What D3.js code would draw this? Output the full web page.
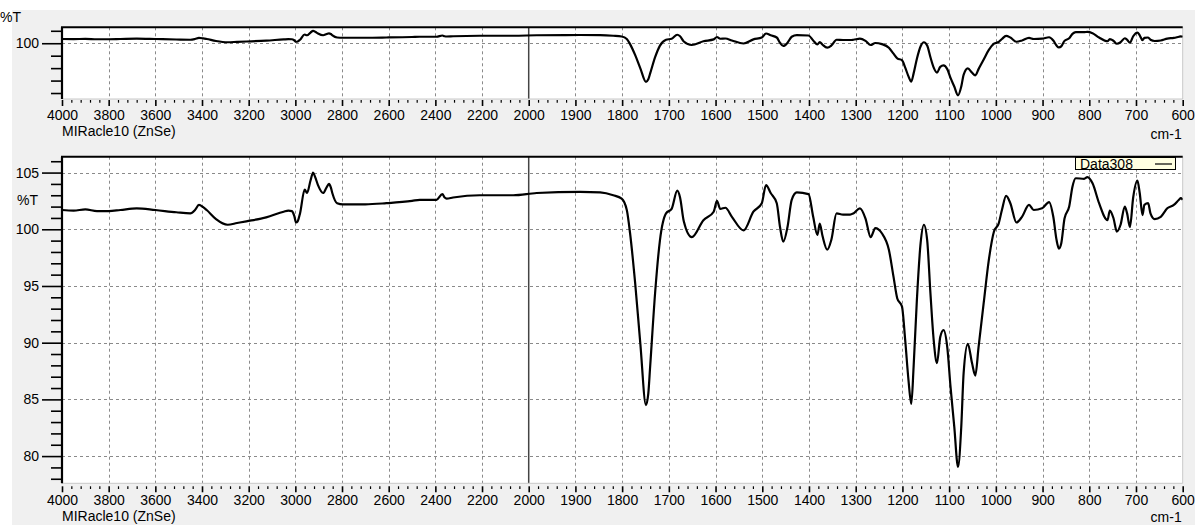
<!DOCTYPE html>
<html><head><meta charset="utf-8">
<script src="https://cdn.jsdelivr.net/npm/d3@7"></script>
<style>
body{margin:0;padding:0;background:#fff;}
svg{display:block;font-family:"Liberation Sans",Arial,sans-serif;}
</style></head>
<body>
<svg id="chart" width="1200" height="525"></svg>
<script>
// ---- data ----
const wavenumbers = [4000,3950,3900,3850,3800,3750,3680,3600,3510,3450,3430,3413,3395,3380,3340,3290,3250,3210,3125,3050,3030,3015,3005,2997,2990,2980,2960,2950,2935,2924,2915,2903,2881,2866,2856,2848,2841,2821,2796,2700,2610,2500,2467,2395,2370,2360,2352,2324,2210,2066,1983,1890,1847,1819,1801,1790,1783,1772,1761,1749,1744,1740,1729,1719,1706,1694,1682,1676,1668,1651,1626,1604,1597,1590,1579,1565,1540,1519,1501,1492,1482,1469,1462,1455,1446,1437,1426,1401,1391,1382,1377,1371,1361,1352,1341,1327,1312,1305,1291,1279,1268,1258,1244,1229,1219,1211,1201,1194,1187,1181,1176,1169,1161,1154,1147,1140,1133,1126,1119,1112,1104,1097,1089,1081,1074,1069,1060,1051,1044,1037,1026,1015,1004,994,987,978,969,956,944,929,919,901,886,877,870,865,860,853,843,836,829,811,804,793,779,761,756,748,741,733,724,719,713,706,697,692,686,682,674,669,660,647,633,619,608,604,600];
const transmittance = [101.7,101.65,101.75,101.6,101.6,101.7,101.85,101.7,101.5,101.4,101.7,102.15,101.95,101.7,100.9,100.4,100.55,100.7,101.05,101.55,101.65,101.6,101.2,100.6,100.7,101.4,103.5,103.2,104.3,105.0,104.6,103.9,103.2,103.7,104.0,103.7,103.15,102.3,102.2,102.2,102.3,102.5,102.6,102.6,103.1,102.8,102.7,102.8,103.0,103.0,103.2,103.3,103.25,103.0,102.7,101.7,99.65,95.2,89.9,84.5,85.5,87.9,94.6,99.05,101.4,101.8,103.4,102.8,100.7,99.3,100.8,101.55,102.5,101.8,101.9,101.1,99.9,101.55,102.3,103.9,103.2,102.3,100.2,98.9,100.2,102.6,103.25,103.1,101.1,99.5,100.5,99.4,98.2,99.1,101.4,101.3,101.3,101.4,101.85,100.95,99.3,100.1,99.65,98.2,95.8,93.9,93.2,90.2,86.7,84.6,87.9,93.8,98.8,100.4,99.05,94.35,90.2,88.2,90.5,91.1,89.6,86.1,82.6,79.05,82.6,87.3,89.9,88.2,87.1,89.6,93.5,97.3,99.8,100.5,101.7,102.95,102.3,100.6,101.1,102.15,101.7,101.85,102.4,101.1,99.05,98.3,98.75,100.95,102.0,103.75,104.5,104.45,104.6,104.05,102.3,100.8,101.65,100.95,99.8,100.4,102.0,101.4,100.2,102.8,104.3,103.2,101.25,102.15,102.3,101.4,100.9,101.1,101.85,102.15,102.6,102.75,102.6];
const xBreaks = [4000, 2000, 600];
const xMajorTicks = [4000,3800,3600,3400,3200,3000,2800,2600,2400,2200,2000,1900,1800,1700,1600,1500,1400,1300,1200,1100,1000,900,800,700,600];
const yDomain = [77.6, 106.4];
const topYTicks = [80,85,90,95,100,105];
const topYLabels = [100];
const bottomYTicks = [80,85,90,95,100,105];
const seriesName = "Data308";
const xAxisTitle = "MIRacle10 (ZnSe)";
const xUnit = "cm-1";
const yTitle = "%T";

// ---- drawing ----
const svg = d3.select("#chart");
svg.append("rect").attr("x",0).attr("y",0).attr("width",1200).attr("height",525).attr("fill","#fff");
svg.append("rect").attr("x",12).attr("y",10).attr("width",1183).attr("height",515).attr("fill","#f0f0f0");

const left = 62, right = 1182.7;
const x = d3.scaleLinear().domain(xBreaks).range([left, 528.7, right]);

const minorX = [];
for (let w = 4000; w > 2000; w -= 40) if (w % 200 !== 0) minorX.push(w);
for (let w = 2000; w > 600; w -= 20) if (w % 100 !== 0) minorX.push(w);

const data = wavenumbers.map((w,i)=>({w, t: transmittance[i]}));
const fmt = d3.format("d");

function panel(top, bottom, opts){
  const y = d3.scaleLinear().domain(yDomain).range([bottom, top]);
  const g = svg.append("g");
  g.append("rect").attr("x",left).attr("y",top).attr("width",right-left).attr("height",bottom-top).attr("fill","#fff");

  // grid
  const grid = g.append("g").attr("stroke","#8a8a8a").attr("stroke-width",1).attr("stroke-dasharray","3,3").attr("fill","none");
  xMajorTicks.filter(d=>d!==4000 && d!==600 && d!==2000).forEach(d=>{
    grid.append("line").attr("x1",Math.round(x(d))+0.5).attr("x2",Math.round(x(d))+0.5).attr("y1",top).attr("y2",bottom);
  });
  opts.gridY.forEach(v=>{
    grid.append("line").attr("x1",left).attr("x2",right).attr("y1",Math.round(y(v))+0.5).attr("y2",Math.round(y(v))+0.5);
  });
  // solid separator at 2000
  g.append("line").attr("x1",x(2000)).attr("x2",x(2000)).attr("y1",top).attr("y2",bottom)
    .attr("stroke","#444").attr("stroke-width",1.5);

  // borders
  g.append("line").attr("x1",right).attr("x2",right).attr("y1",top).attr("y2",bottom).attr("stroke","#c8c8c8");
  g.append("line").attr("x1",left).attr("x2",right).attr("y1",bottom).attr("y2",bottom).attr("stroke","#c8c8c8");

  // spectrum
  const clipId = "clip"+Math.round(top);
  g.append("clipPath").attr("id",clipId).append("rect").attr("x",left).attr("y",top).attr("width",right-left).attr("height",bottom-top);
  g.append("path").datum(data).attr("clip-path",`url(#${clipId})`)
    .attr("fill","none").attr("stroke","#000").attr("stroke-width",2.2).attr("stroke-linejoin","round")
    .attr("d", d3.line().x(d=>x(d.w)).y(d=>y(d.t)).curve(d3.curveMonotoneX));

  // top and left thick borders
  g.append("line").attr("x1",left-1).attr("x2",right).attr("y1",top).attr("y2",top).attr("stroke","#000").attr("stroke-width",2);
  g.append("line").attr("x1",left).attr("x2",left).attr("y1",top).attr("y2",bottom).attr("stroke","#000").attr("stroke-width",2.2);

  // y axis: minor
  const yMinor = d3.axisLeft(y).tickValues(opts.yMinor).tickSize(10).tickFormat("");
  const ym = g.append("g").attr("transform",`translate(${left-1},0)`).call(yMinor);
  ym.select(".domain").remove();
  ym.selectAll(".tick line").attr("stroke","#000").attr("stroke-width",1.6);
  // y axis: major
  const yMajor = d3.axisLeft(y).tickValues(opts.yMajor).tickSize(19).tickPadding(3)
    .tickFormat(d=> opts.yLabels.includes(d) ? fmt(d) : "");
  const yM = g.append("g").attr("transform",`translate(${left-1},0)`).call(yMajor);
  yM.select(".domain").remove();
  yM.selectAll(".tick line").attr("stroke","#000").attr("stroke-width",1.6);
  yM.selectAll(".tick text").attr("font-size",14).attr("fill","#000").attr("font-family","Liberation Sans, Arial, sans-serif");

  // x axis
  const xMinorAx = d3.axisBottom(x).tickValues(minorX).tickSize(opts.minorLen).tickFormat("");
  const xm = g.append("g").attr("transform",`translate(0,${bottom+opts.xOff})`).call(xMinorAx);
  xm.select(".domain").remove();
  xm.selectAll(".tick line").attr("stroke","#000").attr("stroke-width",1.2);
  const xMajorAx = d3.axisBottom(x).tickValues(xMajorTicks).tickSize(opts.majorLen).tickPadding(opts.labelPad).tickFormat(fmt);
  const xM = g.append("g").attr("transform",`translate(0,${bottom+opts.xOff})`).call(xMajorAx);
  xM.select(".domain").remove();
  xM.selectAll(".tick line").attr("stroke","#000").attr("stroke-width",1.6);
  xM.selectAll(".tick text").attr("font-size",14).attr("fill","#000").attr("font-family","Liberation Sans, Arial, sans-serif");

  g.append("text").attr("x",left).attr("y",opts.titleY).attr("font-size",14).attr("fill","#000").text(xAxisTitle);
  g.append("text").attr("x",right-1).attr("y",opts.unitY).attr("text-anchor","end").attr("font-size",14).attr("fill","#000").text(xUnit);
  return {g, y};
}

// top overview panel
const P1 = panel(27.3, 99, {
  gridY:[100], yMajor:[100], yLabels: topYLabels, yMinor: topYTicks.filter(d=>d!==100),
  xOff:1, minorLen:2.7, majorLen:6, labelPad:4, titleY:135.5, unitY:139
});
svg.append("text").attr("x",0).attr("y",22).attr("font-size",14).attr("fill","#000").text(yTitle);

// bottom detailed panel
const minorBottom = d3.range(78,107,1).filter(d=>d%5!==0);
const P2 = panel(156.7, 483.3, {
  gridY: bottomYTicks, yMajor: bottomYTicks, yLabels: bottomYTicks, yMinor: minorBottom,
  xOff:3, minorLen:2.7, majorLen:6, labelPad:3, titleY:521, unitY:522
});
// %T label inside the y axis area of bottom panel
svg.append("rect").attr("x",14).attr("y",191).attr("width",28).attr("height",16).attr("fill","#f0f0f0");
svg.append("text").attr("x",17).attr("y",205).attr("font-size",14).attr("fill","#000").text(yTitle);

// legend
const lg = svg.append("g");
lg.append("rect").attr("x",1075.5).attr("y",157.5).attr("width",100).attr("height",12).attr("fill","#ffffe1").attr("stroke","#000").attr("stroke-width",1);
lg.append("text").attr("x",1080).attr("y",169).attr("font-size",14).attr("fill","#000").text(seriesName);
lg.append("line").attr("x1",1155).attr("x2",1172).attr("y1",164).attr("y2",164).attr("stroke","#000").attr("stroke-width",1.2);
</script>
</body></html>
